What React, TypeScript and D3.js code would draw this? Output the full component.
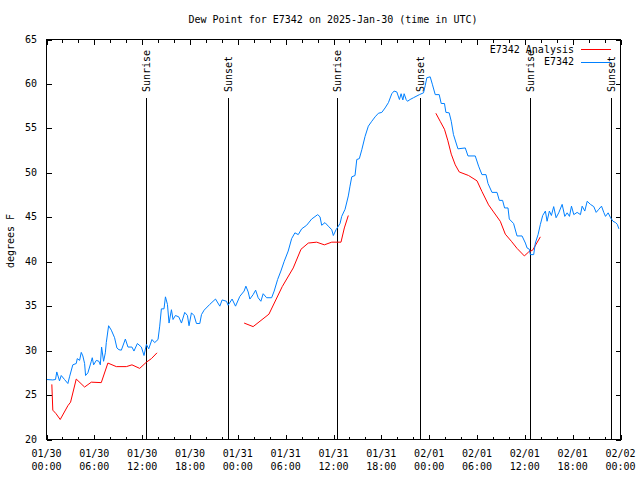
import React from "react";
import * as d3 from "d3";

// ---- Data (hours since 01/30 00:00 UTC) ----
const obsHours = [
  0.0, 0.79, 1.13, 1.29, 1.63, 1.85, 2.26, 2.68, 2.89, 3.3, 3.73, 3.86, 4.15, 4.36, 4.56, 4.78, 4.9, 5.19,
  5.62, 5.74, 5.91, 6.25, 6.57, 6.75, 6.91, 7.16, 7.38, 7.5, 7.79, 8.13, 8.54, 8.83, 9.09, 9.39, 9.89,
  10.22, 10.72, 10.97, 11.4, 11.9, 12.23, 12.53, 12.82, 13.23, 13.57, 13.99, 14.2, 14.41, 14.74, 14.92,
  15.17, 15.37, 15.67, 15.87, 16.17, 16.59, 16.93, 17.34, 17.68, 17.88, 18.18, 18.51, 18.81, 19.23,
  19.44, 19.77, 20.48, 21.2, 21.74, 22.03, 22.58, 22.78, 23.28, 23.71, 24.25, 24.79, 25.01, 25.3, 25.51,
  25.92, 26.23, 26.55, 26.89, 27.18, 27.61, 28.24, 28.56, 28.99, 29.4, 29.82, 30.32, 30.75, 31.16, 31.58,
  32.01, 32.63, 33.26, 34.02, 34.31, 34.52, 34.93, 35.35, 35.78, 35.98, 36.32, 36.82, 37.03, 37.45, 37.86,
  38.07, 38.29, 38.7, 38.92, 39.24, 39.55, 39.96, 40.37, 40.8, 41.22, 41.63, 42.06, 42.47, 42.89, 43.31,
  43.6, 43.94, 44.27, 44.48, 44.7, 44.86, 45.11, 45.28, 45.61, 46.03, 46.78, 47.29, 47.5, 47.71, 48.13,
  48.42, 48.76, 49.26, 49.51, 49.92, 50.1, 50.51, 50.77, 51.05, 51.61, 52.53, 52.87, 53.78, 54.2, 54.62,
  55.13, 55.38, 55.88, 56.51, 56.8, 57.21, 57.46, 57.89, 58.05, 58.59, 59.02, 59.65, 60.07, 60.28, 60.57,
  60.69, 61.11, 61.32, 61.66, 61.95, 62.24, 62.58, 62.79, 63.08, 63.33, 63.62, 63.92, 64.25, 64.68, 65.01,
  65.31, 65.6, 65.85, 66.14, 66.56, 66.98, 67.19, 67.52, 67.82, 68.23, 68.65, 68.95, 69.28, 69.62, 69.9,
  70.12, 70.45, 70.75, 71.06, 71.39, 71.6, 71.8,
];
const obsValues = [
  26.75, 26.7, 26.75, 27.6, 26.6, 27.2, 26.75, 26.3, 27.05, 28.4, 28.55, 29.1, 28.9, 29.8, 29.4, 28.55, 27.2,
  27.5, 28.8, 29.2, 28.4, 28.9, 28.8, 28.4, 30.4, 28.8, 29.75, 30.9, 32.8, 32.3, 31.45, 30.3, 30.1, 30.05,
  31.3, 30.4, 30.4, 29.95, 30.8, 30.4, 29.45, 30.7, 30.2, 31.25, 30.9, 31.25, 32.75, 34.7, 34.7, 36.05, 35.2,
  33.1, 34.6, 33.5, 33.95, 33.8, 33.1, 34.3, 33.95, 32.8, 34.25, 33.95, 33.05, 33.05, 34.05, 34.55, 35.2,
  35.8, 35.0, 35.7, 35.55, 35.1, 35.8, 35.0, 36.1, 36.7, 37.25, 36.6, 35.8, 36.3, 36.8, 35.95, 35.55, 36.4,
  35.95, 35.95, 36.7, 38.0, 38.95, 40.05, 41.2, 42.6, 43.25, 43.05, 43.7, 44.1, 44.8, 45.3, 45.05, 44.1,
  44.4, 44.0, 43.6, 42.95, 43.6, 44.3, 45.1, 45.9, 47.4, 48.5, 49.55, 49.7, 51.5, 51.6, 52.6, 54.1, 55.25,
  55.8, 56.3, 56.7, 56.8, 57.3, 57.9, 58.9, 59.2, 59.1, 58.25, 58.9, 58.2, 58.9, 58.25, 58.05, 58.25, 58.45,
  58.8, 59.0, 59.8, 60.7, 60.8, 59.9, 58.8, 58.8, 57.8, 57.8, 56.8, 56.75, 55.8, 54.3, 52.7, 52.8, 51.9,
  51.9, 50.75, 49.8, 49.8, 48.8, 47.8, 47.8, 46.9, 46.9, 46.05, 46.05, 44.8, 44.3, 42.9, 42.9, 42.1, 41.55,
  41.4, 40.8, 40.8, 42.1, 43.05, 44.2, 45.2, 45.7, 44.55, 45.7, 45.2, 46.2, 44.95, 45.5, 46.45, 45.1, 45.5,
  45.1, 46.25, 45.3, 45.55, 45.3, 46.25, 45.7, 46.8, 46.45, 46.2, 45.55, 45.9, 46.25, 45.55, 45.1, 45.5,
  44.95, 44.55, 44.4, 44.2, 43.7,
];

// null values break the analysis line into its segments
const analysisHours = [
  0.67, 0.79, 1.2, 1.72, 2.68, 3.02, 3.73, 4.78, 5.62, 6.87, 7.7, 8.76, 10.02, 10.72, 11.69, 12.53, 13.16, 13.86,
  20.0,
  24.79, 25.92, 27.9, 29.57, 30.95, 31.92, 32.84, 33.89, 34.85, 35.78, 36.94, 37.36, 37.86,
  43.0,
  48.84, 49.38, 49.92, 50.35, 50.77, 51.27, 51.77, 52.94, 54.0, 54.62, 55.45, 56.08, 56.92, 57.55, 58.31,
  59.02, 59.94, 60.48, 60.98, 61.95,
];
const analysisValues: (number | null)[] = [
  26.2, 23.3, 22.9, 22.25, 23.8, 24.2, 26.8, 25.9, 26.45, 26.4, 28.6, 28.2, 28.2, 28.4, 28.0, 28.7, 29.1, 29.75,
  null,
  33.1, 32.7, 34.1, 37.2, 39.3, 41.4, 42.1, 42.2, 41.9, 42.2, 42.2, 43.8, 45.2,
  null,
  56.7, 55.8, 54.9, 53.6, 52.1, 50.9, 50.1, 49.7, 49.1, 47.9, 46.4, 45.6, 44.55, 43.1, 42.3, 41.5, 40.65,
  41.1, 41.3, 42.8,
];

const sunHours = [12.45, 22.8, 36.45, 46.9, 60.6, 70.85];
const sunLabels = ["Sunrise", "Sunset", "Sunrise", "Sunset", "Sunrise", "Sunset"];

const yTicks = [20, 25, 30, 35, 40, 45, 50, 55, 60, 65];
const xMajorHours = [0, 6, 12, 18, 24, 30, 36, 42, 48, 54, 60, 66, 72];
const xDateLabels = ["01/30", "01/30", "01/30", "01/30", "01/31", "01/31", "01/31", "01/31", "02/01", "02/01", "02/01", "02/01", "02/02"];
const xTimeLabels = ["00:00", "06:00", "12:00", "18:00", "00:00", "06:00", "12:00", "18:00", "00:00", "06:00", "12:00", "18:00", "00:00"];
const xMinorHours = d3.range(0, 73, 2);

const seriesNames = ["E7342 Analysis", "E7342"];
const seriesColors = ["#ff0000", "#0080ff"];

const titleText = "Dew Point for E7342 on 2025-Jan-30 (time in UTC)";
const yLabelText = "degrees F";

export default function App() {
  const W = 640;
  const H = 480;
  const left = 46.5;
  const right = 620.5;
  const top = 39.5;
  const bottom = 439.5;
  const font = "'DejaVu Sans Mono', monospace";

  const x = d3.scaleLinear().domain([0, 72]).range([left, right]);
  const y = d3.scaleLinear().domain([20, 65]).range([bottom, top]);

  const obsLine = d3
    .line<number>()
    .x((_, i) => x(obsHours[i]))
    .y((v) => y(v))(obsValues);

  const anaLine = d3
    .line<number | null>()
    .defined((v) => v !== null)
    .x((_, i) => x(analysisHours[i]))
    .y((v) => y(v as number))(analysisValues);

  const majorLen = 5;
  const minorLen = 3;

  return (
    <svg
      width={W}
      height={H}
      style={{ position: "absolute", left: 0, top: 0, background: "#fff" }}
      fontFamily={font}
      fontSize={10}
    >
      <rect x={0} y={0} width={W} height={H} fill="#fff" />
      {/* title */}
      <text x={333} y={20} textAnchor="middle" dominantBaseline="middle" fill="#000">
        {titleText}
      </text>
      {/* y label */}
      <text
        transform={`translate(11,241) rotate(-90)`}
        textAnchor="middle"
        dominantBaseline="middle"
        fill="#000"
      >
        {yLabelText}
      </text>

      <g stroke="#000" strokeWidth={1} shapeRendering="crispEdges">
        {/* y ticks (mirrored) */}
        {yTicks.map((t) => (
          <g key={"yt" + t}>
            <line x1={left} x2={left + majorLen} y1={Math.round(y(t)) + 0.5} y2={Math.round(y(t)) + 0.5} />
            <line x1={right} x2={right - majorLen} y1={Math.round(y(t)) + 0.5} y2={Math.round(y(t)) + 0.5} />
          </g>
        ))}
        {/* x minor ticks */}
        {xMinorHours.map((h) => (
          <g key={"xm" + h}>
            <line x1={Math.round(x(h)) + 0.5} x2={Math.round(x(h)) + 0.5} y1={bottom} y2={bottom - minorLen} />
            <line x1={Math.round(x(h)) + 0.5} x2={Math.round(x(h)) + 0.5} y1={top} y2={top + minorLen} />
          </g>
        ))}
        {/* x major ticks */}
        {xMajorHours.map((h) => (
          <g key={"xM" + h}>
            <line x1={Math.round(x(h)) + 0.5} x2={Math.round(x(h)) + 0.5} y1={bottom} y2={bottom - majorLen} />
            <line x1={Math.round(x(h)) + 0.5} x2={Math.round(x(h)) + 0.5} y1={top} y2={top + majorLen} />
          </g>
        ))}
        {/* sunrise / sunset lines */}
        {sunHours.map((h, i) => (
          <line
            key={"sl" + i}
            x1={Math.round(x(h)) + 0.5}
            x2={Math.round(x(h)) + 0.5}
            y1={98}
            y2={bottom}
          />
        ))}
      </g>

      {/* y tick labels */}
      {yTicks.map((t) => (
        <text key={"yl" + t} x={37} y={y(t)} textAnchor="end" dominantBaseline="middle" fill="#000">
          {t}
        </text>
      ))}
      {/* x tick labels */}
      {xMajorHours.map((h, i) => (
        <g key={"xl" + h}>
          <text x={x(h)} y={454} textAnchor="middle" dominantBaseline="middle" fill="#000">
            {xDateLabels[i]}
          </text>
          <text x={x(h)} y={466.5} textAnchor="middle" dominantBaseline="middle" fill="#000">
            {xTimeLabels[i]}
          </text>
        </g>
      ))}

      {/* sun labels */}
      {sunHours.map((h, i) => (
        <text
          key={"st" + i}
          transform={`translate(${Math.round(x(h)) + 0.5},92) rotate(-90)`}
          textAnchor="start"
          dominantBaseline="middle"
          fill="#000"
        >
          {sunLabels[i]}
        </text>
      ))}

      {/* data */}
      <path d={anaLine || ""} fill="none" stroke={seriesColors[0]} strokeWidth={1} />
      <path d={obsLine || ""} fill="none" stroke={seriesColors[1]} strokeWidth={1} />

      {/* legend */}
      {seriesNames.map((name, i) => (
        <g key={"lg" + i}>
          <text x={574} y={49.5 + i * 12.5} textAnchor="end" dominantBaseline="middle" fill="#000">
            {name}
          </text>
          <line
            x1={581}
            x2={611}
            y1={49.5 + i * 12.5}
            y2={49.5 + i * 12.5}
            stroke={seriesColors[i]}
            strokeWidth={1}
            shapeRendering="crispEdges"
          />
        </g>
      ))}

      {/* frame */}
      <rect
        x={left}
        y={top}
        width={right - left}
        height={bottom - top}
        fill="none"
        stroke="#000"
        strokeWidth={1}
        shapeRendering="crispEdges"
      />
    </svg>
  );
}
